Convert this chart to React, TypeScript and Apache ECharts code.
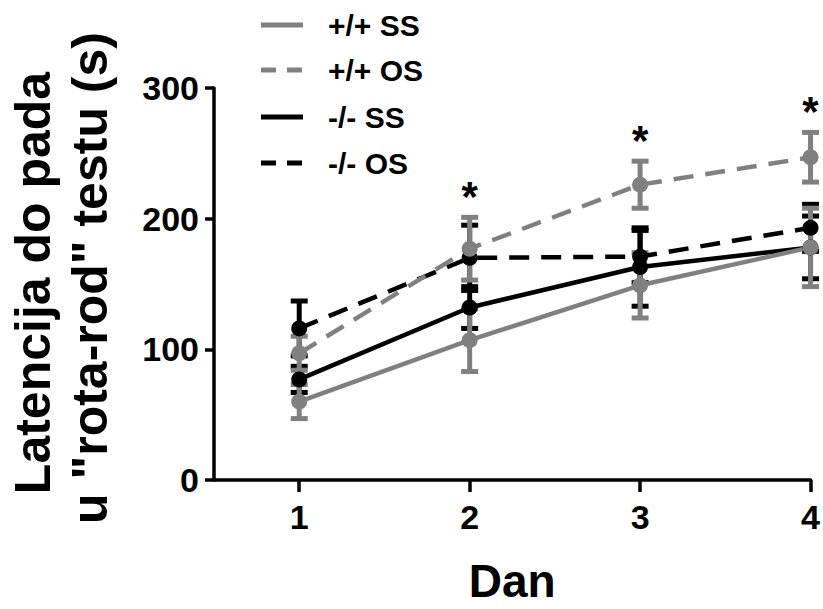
import React, { useEffect, useRef } from "react";
import * as echarts from "echarts";

// ---- data ----
const days = [1, 2, 3, 4];
const seriesNames = ["+/+ SS", "+/+ OS", "-/- SS", "-/- OS"];
const wtSS = [60, 107, 149, 178];
const wtSSErr = [13, 24, 25, 30];
const wtOS = [97, 177, 226, 247];
const wtOSErr = [13, 24, 18, 19];
const koSS = [77, 132, 163, 178];
const koSSErr = [10, 16, 30, 24];
const koOS = [116, 170, 171, 193];
const koOSErr = [21, 25, 20, 18];
const sigDays = [2, 3, 4];
const yTickValues = [0, 100, 200, 300];
const xTitle = "Dan";
const yTitleLines = ["Latencija do pada", 'u "rota-rod" testu (s)'];

const GRAY = "#808080";
const BLACK = "#000000";
const FONT = "'Liberation Sans', Arial, Helvetica, sans-serif";

export default function App() {
  const ref = useRef<HTMLDivElement>(null);

  useEffect(() => {
    document.body.style.margin = "0";
    if (!ref.current) return;
    const chart = echarts.init(ref.current, undefined, { renderer: "svg" });

    const groups = [
      { name: seriesNames[3], vals: koOS, err: koOSErr, color: BLACK, dashed: true },
      { name: seriesNames[2], vals: koSS, err: koSSErr, color: BLACK, dashed: false },
      { name: seriesNames[1], vals: wtOS, err: wtOSErr, color: GRAY, dashed: true },
      { name: seriesNames[0], vals: wtSS, err: wtSSErr, color: GRAY, dashed: false },
    ];

    const series: any[] = [];
    groups.forEach((g) => {
      series.push({
        type: "custom",
        name: g.name + " err",
        data: days.map((d, i) => [d, g.vals[i] - g.err[i], g.vals[i] + g.err[i]]),
        encode: { x: 0, y: [1, 2] },
        silent: true,
        renderItem: (params: any, api: any) => {
          const x = api.value(0);
          const lo = api.coord([x, api.value(1)]);
          const hi = api.coord([x, api.value(2)]);
          const hw = 8.5;
          const style = { stroke: g.color, lineWidth: 5 };
          return {
            type: "group",
            children: [
              { type: "line", shape: { x1: lo[0], y1: lo[1], x2: hi[0], y2: hi[1] }, style },
              { type: "line", shape: { x1: lo[0] - hw, y1: lo[1], x2: lo[0] + hw, y2: lo[1] }, style },
              { type: "line", shape: { x1: hi[0] - hw, y1: hi[1], x2: hi[0] + hw, y2: hi[1] }, style },
            ],
          };
        },
      });
      series.push({
        type: "line",
        name: g.name,
        data: days.map((d, i) => [d, g.vals[i]]),
        symbol: "circle",
        symbolSize: 16,
        lineStyle: { color: g.color, width: 4.5, type: g.dashed ? [20, 12] : "solid" },
        itemStyle: { color: g.color },
        silent: true,
      });
    });

    series.push({
      type: "custom",
      name: "sig",
      silent: true,
      data: sigDays.map((d) => {
        const i = days.indexOf(d);
        return [d, wtOS[i] + wtOSErr[i]];
      }),
      encode: { x: 0, y: 1 },
      renderItem: (params: any, api: any) => {
        const p = api.coord([api.value(0), api.value(1)]);
        return {
          type: "text",
          x: p[0],
          y: p[1] - 21,
          style: {
            text: "*",
            fontSize: 42,
            fontWeight: "bold",
            fontFamily: FONT,
            fill: BLACK,
            align: "center",
            verticalAlign: "middle",
          },
        };
      },
    });

    const legendRowsY = [25, 70, 117, 163];
    const legendStyles = [
      { color: GRAY, dash: null },
      { color: GRAY, dash: [15, 11] },
      { color: BLACK, dash: null },
      { color: BLACK, dash: [15, 11] },
    ];
    const graphic: any[] = [];
    seriesNames.forEach((n, i) => {
      graphic.push({
        type: "line",
        shape: { x1: 261, y1: legendRowsY[i], x2: 303, y2: legendRowsY[i] },
        style: {
          stroke: legendStyles[i].color,
          lineWidth: 5,
          lineDash: legendStyles[i].dash || undefined,
        },
      });
      graphic.push({
        type: "text",
        x: 328,
        y: legendRowsY[i],
        style: {
          text: n,
          fontSize: 30,
          fontWeight: "bold",
          fontFamily: FONT,
          fill: BLACK,
          align: "left",
          verticalAlign: "middle",
        },
      });
    });
    const yTitleX = [33, 90];
    const yTitleY = [283, 278];
    yTitleLines.forEach((t, i) => {
      graphic.push({
        type: "text",
        x: yTitleX[i],
        y: yTitleY[i],
        rotation: Math.PI / 2,
        style: {
          text: t,
          fontSize: 50,
          fontWeight: "bold",
          fontFamily: FONT,
          fill: BLACK,
          align: "center",
          verticalAlign: "middle",
        },
      });
    });

    chart.setOption({
      animation: false,
      backgroundColor: "#ffffff",
      grid: { left: 214, right: 11, top: 88, bottom: 121, containLabel: false },
      xAxis: {
        type: "value",
        min: 0.5,
        max: 4,
        name: xTitle,
        nameLocation: "middle",
        nameGap: 78,
        nameTextStyle: { fontSize: 46, fontWeight: "bold", fontFamily: FONT, color: BLACK },
        axisLine: { show: true, onZero: false, lineStyle: { color: BLACK, width: 3.5 } },
        axisTick: { show: true, length: 12, customValues: days, lineStyle: { color: BLACK, width: 3.5 } },
        axisLabel: {
          customValues: days,
          fontSize: 34,
          fontWeight: "bold",
          fontFamily: FONT,
          color: BLACK,
          margin: 20,
        },
        splitLine: { show: false },
      },
      yAxis: {
        type: "value",
        min: 0,
        max: 300,
        interval: 100,
        axisLine: { show: true, lineStyle: { color: BLACK, width: 3.5 } },
        axisTick: { show: true, length: 9, lineStyle: { color: BLACK, width: 3.5 } },
        axisLabel: {
          customValues: yTickValues,
          fontSize: 34,
          fontWeight: "bold",
          fontFamily: FONT,
          color: BLACK,
          margin: 15,
        },
        splitLine: { show: false },
      },
      graphic,
      series,
    });

    return () => chart.dispose();
  }, []);

  return <div ref={ref} style={{ width: 823, height: 609 }} />;
}
